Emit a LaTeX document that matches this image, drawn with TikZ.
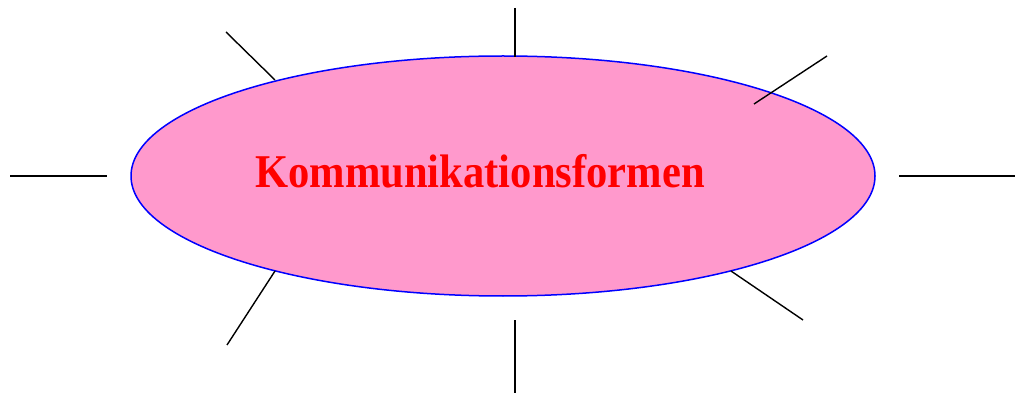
\documentclass[tikz,border=0pt]{standalone}
\usepackage{fontspec}
\setmainfont{Liberation Serif}
\usetikzlibrary{shapes.geometric}
\definecolor{pinkfill}{RGB}{255,153,204}
\tikzset{ray/.style={black,line width=1.4pt}}
\begin{document}
\begin{tikzpicture}[x=1pt,y=1pt]
\useasboundingbox (0,0) rectangle (1015,394);
\draw[blue,line width=1.5pt,fill=pinkfill] (503,218) ellipse [x radius=372, y radius=120];
\node[text=red,font=\fontsize{47}{50}\selectfont\bfseries,inner sep=0pt,anchor=base] (t) at (480,206) {\scalebox{0.906}[1]{Kommunikationsformen}};
\coordinate (l1) at (10,218); \coordinate (l2) at (107,218);
\coordinate (r1) at (899,218); \coordinate (r2) at (1015,218);
\coordinate (u1) at (515,386); \coordinate (u2) at (515,337);
\coordinate (d1) at (515,74); \coordinate (d2) at (515,1);
\coordinate (ul1) at (226,362); \coordinate (ul2) at (275,314);
\coordinate (ur1) at (754,290); \coordinate (ur2) at (827,338);
\coordinate (dr1) at (731,123); \coordinate (dr2) at (803,74);
\coordinate (dl1) at (227,49); \coordinate (dl2) at (275,123);
\draw[ray] (l1) -- (l2);
\draw[ray] (r1) -- (r2);
\draw[ray] (u1) -- (u2);
\draw[ray] (d1) -- (d2);
\draw[ray] (ul1) -- (ul2);
\draw[ray] (ur1) -- (ur2);
\draw[ray] (dr1) -- (dr2);
\draw[ray] (dl1) -- (dl2);
\end{tikzpicture}
\end{document}
